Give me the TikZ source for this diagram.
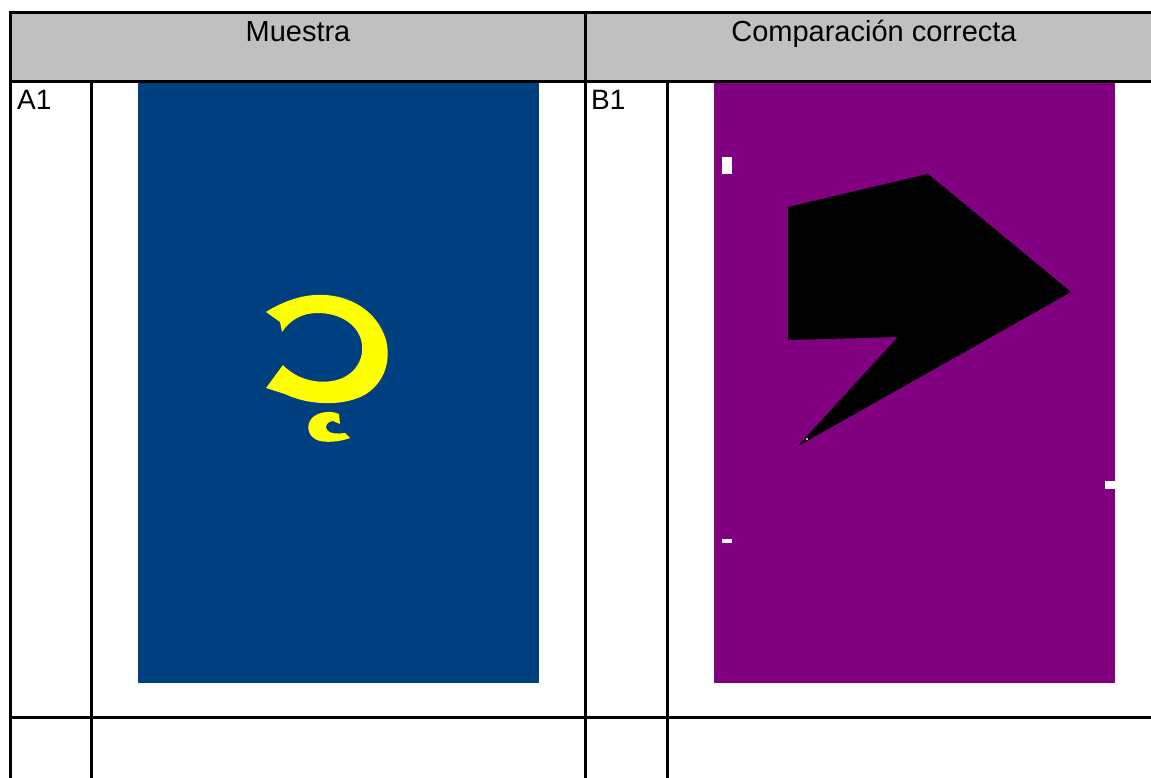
\documentclass[tikz,border=0pt]{standalone}
\usepackage{fontspec}
\setmainfont{Liberation Sans}
\definecolor{hdrgray}{RGB}{192,192,192}
\definecolor{sampleblue}{RGB}{0,64,128}
\definecolor{cmppurple}{RGB}{128,0,128}
\definecolor{symyellow}{RGB}{255,255,0}
\tikzset{
  gridline/.style={line width=3pt, line cap=rect},
  hdrtext/.style={anchor=base, inner sep=0pt, font=\fontsize{29}{34}\selectfont},
  celltext/.style={anchor=base west, inner sep=0pt, font=\fontsize{28}{33}\selectfont},
  whitemark/.style={fill=white, draw=none}
}
\begin{document}
\begin{tikzpicture}[x=1pt,y=-1pt]
\useasboundingbox (0,0) rectangle (1151,778);
% header
\fill[hdrgray] (10,13) rectangle (1151,82);
% images
\fill[sampleblue] (138,82) rectangle (539,683);
\fill[cmppurple] (714,82) rectangle (1115,683);
% yellow ring
\fill[symyellow] (266,312)
  .. controls (275,306) and (295,296) .. (315,295)
  .. controls (350,293) and (378,312) .. (386,340)
  .. controls (393,368) and (378,392) .. (355,399)
  .. controls (335,406) and (305,404) .. (285,394)
  -- (266,388)
  -- (283,365)
  .. controls (295,378) and (315,384) .. (332,381)
  .. controls (352,378) and (364,362) .. (362,345)
  .. controls (360,325) and (340,313) .. (318,313)
  .. controls (302,313) and (290,320) .. (282,332)
  -- (280,322) -- cycle;
% small c
\fill[symyellow] (339,414)
  .. controls (330,410) and (318,412) .. (312,418)
  .. controls (305,426) and (308,438) .. (320,441)
  .. controls (330,443) and (342,441) .. (350,438)
  -- (345,433)
  .. controls (338,434) and (330,434) .. (327,430)
  .. controls (324,426) and (328,421) .. (333,421)
  -- (340,424) -- cycle;
% black polygon
\fill[black] (788,207) -- (928,174) -- (1071,292) -- (798,446) -- (898,337) -- (788,340) -- cycle;
\fill[white] (807,439) circle (1.2);
% white marks
\fill[whitemark] (722,157) rectangle (732,174);
\fill[whitemark] (1105,481) rectangle (1115,489);
\fill[whitemark] (722,539) rectangle (732,543);
% grid lines
\draw[gridline] (10,13) -- (1151,13);
\draw[gridline] (10,82) -- (1151,82);
\draw[gridline] (10,717) -- (1151,717);
\draw[gridline] (10,13) -- (10,778);
\draw[gridline] (585,13) -- (585,778);
\draw[gridline] (91,82) -- (91,778);
\draw[gridline] (667,82) -- (667,778);
% texts
\node[hdrtext] (h1) at (298,42) {Muestra};
\node[hdrtext] (h2) at (874,42) {Comparación correcta};
\node[celltext] (a1) at (17,110) {A1};
\node[celltext] (b1) at (591,110) {B1};
\end{tikzpicture}
\end{document}
